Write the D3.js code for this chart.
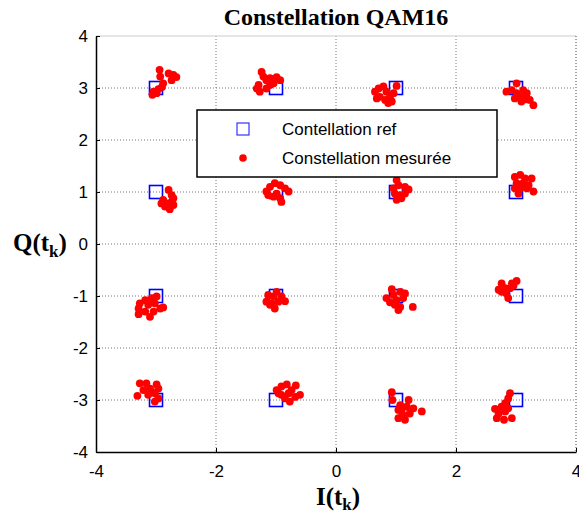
<!DOCTYPE html>
<html>
<head>
<meta charset="utf-8">
<script src="https://d3js.org/d3.v7.min.js"></script>
<style>
body { margin: 0; background: #fff; }
text { font-family: "Liberation Sans", Arial, sans-serif; }
.serif { font-family: "Liberation Serif", "Times New Roman", serif; font-weight: bold; }
</style>
</head>
<body>
<svg id="chart" width="579" height="515"></svg>
<script>
// reference constellation
var refI = [-3, -1, 1, 3, -3, -1, 1, 3, -3, -1, 1, 3, -3, -1, 1, 3];
var refQ = [ 3,  3, 3, 3,  1,  1, 1, 1, -1, -1, -1, -1, -3, -3, -3, -3];

var mesI = [
  -2.94,-2.93,-2.88,-2.90,-2.79,-2.71,-2.66,-2.74,-3.04,-3.06,-2.99,-2.96,
  -1.24,-1.21,-1.16,-1.10,-0.99,-0.93,-1.04,-1.29,-1.32,-1.27,-1.16,-1.10,
   1.01, 0.65, 0.71, 0.79, 0.84, 0.73, 0.68, 0.90, 0.93, 0.87, 0.96, 0.82,
   3.01, 2.84, 2.93, 3.01, 3.12, 3.18, 3.07, 2.98, 3.15, 3.23, 3.29, 3.09,
  -2.79,-2.74,-2.71,-2.88,-2.91,-2.82,-2.71,-2.77,-2.85,-2.74,
  -1.16,-1.10,-1.02,-0.93,-0.85,-0.79,-0.99,-1.04,-0.93,-0.91,-1.13,
   1.01, 1.04, 0.96, 1.15, 1.21, 0.98, 1.07, 1.15, 1.01, 1.09,
   2.98, 3.07, 3.15, 3.26, 3.01, 3.12, 3.21, 3.07, 3.18, 3.29, 2.98, 3.04,
  -2.99,-3.07,-3.18,-3.27,-3.29,-3.29,-3.18,-3.10,-3.04,-2.93,-2.88,-3.13,-3.02,
  -0.99,-1.13,-1.04,-0.91,-0.85,-1.16,-1.07,-0.96,-1.02,-1.10,
   0.93, 0.84, 0.96, 1.07, 1.15, 1.12, 1.01, 0.90, 1.07, 1.04, 1.28, 0.98,
   3.01, 2.93, 2.76, 2.71, 2.82, 2.90, 2.84, 2.87, 2.76, 2.96,
  -3.27,-3.16,-2.99,-2.96,-3.10,-3.21,-3.31,-3.13,-3.02,-3.02,-2.96,-3.07,
  -0.99,-0.91,-0.82,-0.67,-0.74,-0.60,-0.68,-0.79,-0.91,-0.77,-0.85,-0.96,
   0.93, 0.94, 1.07, 1.21, 1.18, 1.04, 1.29, 1.43, 1.23, 1.12, 1.04, 1.15, 1.09,
   2.90, 2.87, 2.82, 2.76, 2.65, 2.71, 2.68, 2.82, 2.93, 2.80, 2.87
];
var mesQ = [
   3.35, 3.22, 3.09, 3.02, 3.28, 3.25, 3.21, 3.15, 2.93, 2.87, 2.90, 2.98,
   3.31, 3.22, 3.15, 3.19, 3.21, 3.15, 3.09, 3.06, 2.99, 2.93, 2.99, 3.06,
   3.04, 2.93, 2.99, 3.03, 2.93, 2.83, 2.80, 2.83, 2.74, 2.71, 2.90, 2.77,
   3.09, 2.93, 2.96, 2.90, 2.96, 2.90, 2.83, 2.80, 2.78, 2.77, 2.67, 2.74,
   1.04, 0.94, 0.88, 0.85, 0.78, 0.78, 0.75, 0.67, 0.72, 0.81,
   1.01, 1.10, 1.17, 1.13, 1.07, 1.01, 0.97, 0.91, 0.88, 0.81, 0.94,
   1.23, 1.13, 1.07, 1.10, 1.05, 0.97, 0.94, 0.97, 0.85, 0.88,
   1.29, 1.33, 1.26, 1.26, 1.17, 1.17, 1.13, 1.07, 1.07, 1.01, 1.07, 0.97,
  -1.01,-1.04,-1.08,-1.14,-1.24,-1.35,-1.30,-1.40,-1.30,-1.24,-1.22,-1.17,-1.14,
  -0.92,-0.98,-1.01,-1.01,-1.10,-1.11,-1.14,-1.11,-1.24,-1.17,
  -0.87,-1.04,-0.98,-0.92,-0.95,-1.04,-1.08,-1.12,-1.21,-1.27,-1.21,-1.17,
  -0.71,-0.76,-0.76,-0.88,-0.85,-0.85,-0.95,-1.04,-0.92,-0.80,
  -2.68,-2.68,-2.70,-2.78,-2.78,-2.81,-2.92,-2.90,-2.87,-3.03,-2.97,-2.85,
  -2.81,-2.74,-2.70,-2.72,-2.81,-2.90,-2.94,-2.87,-2.90,-3.03,-2.97,-2.87,
  -2.85,-3.00,-3.10,-3.00,-3.13,-3.19,-3.16,-3.22,-3.26,-3.29,-3.35,-3.38,-3.22,
  -2.87,-2.97,-3.06,-3.13,-3.17,-3.26,-3.35,-3.22,-3.35,-3.38,-3.16
];

var xTicks = [-4, -2, 0, 2, 4];
var yTicks = [-4, -3, -2, -1, 0, 1, 2, 3, 4];
var legendLabels = ["Contellation ref", "Constellation mesurée"];

var svg = d3.select("#chart");
var x = d3.scaleLinear().domain([-4, 4]).range([96, 576]);
var y = d3.scaleLinear().domain([-4, 4]).range([452, 36]);

// grid
svg.append("g").selectAll("line").data(xTicks.slice(1, -1)).enter().append("line")
  .attr("x1", d => x(d)).attr("x2", d => x(d)).attr("y1", y(4)).attr("y2", y(-4))
  .attr("stroke", "#777").attr("stroke-width", 1).attr("stroke-dasharray", "1,2");
svg.append("g").selectAll("line").data(yTicks.slice(1, -1)).enter().append("line")
  .attr("x1", x(-4)).attr("x2", x(4)).attr("y1", d => y(d)).attr("y2", d => y(d))
  .attr("stroke", "#777").attr("stroke-width", 1).attr("stroke-dasharray", "1,2");

// top and right frame
svg.append("line").attr("x1", x(-4)).attr("x2", x(4)).attr("y1", y(4)).attr("y2", y(4))
  .attr("stroke", "#ccc");
svg.append("line").attr("x1", x(4)).attr("x2", x(4)).attr("y1", y(4)).attr("y2", y(-4))
  .attr("stroke", "#444").attr("stroke-dasharray", "1,2");

// axes
var fmt = d => String(d);
var xAxis = svg.append("g").attr("transform", "translate(0," + y(-4) + ")")
  .call(d3.axisBottom(x).tickValues(xTicks).tickFormat(fmt).tickSize(-4).tickPadding(10).tickSizeOuter(0));
var yAxis = svg.append("g").attr("transform", "translate(" + x(-4) + ",0)")
  .call(d3.axisLeft(y).tickValues(yTicks).tickFormat(fmt).tickSize(-4).tickPadding(8).tickSizeOuter(0));
[xAxis, yAxis].forEach(function(a) {
  a.select(".domain").attr("stroke", "#000").attr("stroke-width", 1.5);
  a.selectAll(".tick line").attr("stroke", "#000");
  a.selectAll(".tick text").attr("fill", "#000").style("font-size", "17px")
    .style("font-family", "'Liberation Sans', Arial, sans-serif");
});
xAxis.selectAll(".tick text").attr("dy", "0.9em");

// reference squares
svg.append("g").selectAll("rect").data(refI).enter().append("rect")
  .attr("x", (d, i) => x(d) - 6.5).attr("y", (d, i) => y(refQ[i]) - 6.5)
  .attr("width", 13).attr("height", 13)
  .attr("fill", "none").attr("stroke", "#0000ff").attr("stroke-width", 1.6);

// measured points
svg.append("g").selectAll("circle").data(mesI).enter().append("circle")
  .attr("cx", d => x(d)).attr("cy", (d, i) => y(mesQ[i])).attr("r", 3.9)
  .attr("fill", "#ff0000");

// legend
var lg = svg.append("g");
lg.append("rect").attr("x", 197).attr("y", 110).attr("width", 300).attr("height", 67)
  .attr("fill", "#fff").attr("stroke", "#000").attr("stroke-width", 1.5);
lg.append("rect").attr("x", 237).attr("y", 123).attr("width", 12).attr("height", 12)
  .attr("fill", "none").attr("stroke", "#3333ff").attr("stroke-width", 1.2);
lg.append("circle").attr("cx", 243).attr("cy", 158).attr("r", 3.8).attr("fill", "#ff0000");
lg.selectAll("text.lab").data(legendLabels).enter().append("text")
  .attr("x", 282).attr("y", (d, i) => 135 + i * 29)
  .style("font-size", "17px").attr("fill", "#000").text(d => d);

// title and labels
svg.append("text").attr("class", "serif").attr("x", 336).attr("y", 25)
  .attr("text-anchor", "middle").style("font-size", "24px").text("Constellation QAM16");

var yl = svg.append("text").attr("class", "serif").attr("x", 13).attr("y", 251)
  .style("font-size", "25px");
yl.append("tspan").text("Q(t");
yl.append("tspan").attr("dy", 6).style("font-size", "17px").text("k");
yl.append("tspan").attr("dy", -6).text(")");

var xl = svg.append("text").attr("class", "serif").attr("x", 338).attr("y", 505)
  .attr("text-anchor", "middle").style("font-size", "25px");
xl.append("tspan").text("I(t");
xl.append("tspan").attr("dy", 5).style("font-size", "17px").text("k");
xl.append("tspan").attr("dy", -5).text(")");
</script>
</body>
</html>
